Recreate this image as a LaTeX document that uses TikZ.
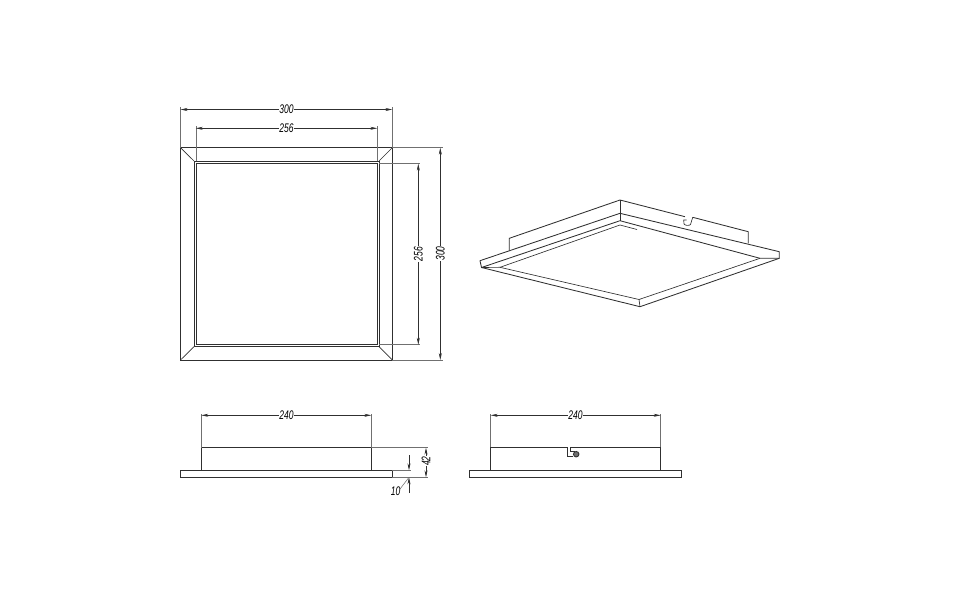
\documentclass[tikz,border=0pt]{standalone}
\usepackage{fontspec}
\setmainfont{Liberation Sans}
\usetikzlibrary{arrows.meta}
\definecolor{inkdark}{HTML}{303030}
\definecolor{inkext}{HTML}{707070}
\tikzset{
	part/.style={draw=inkdark,line width=0.85pt,line join=miter},
	thinpart/.style={draw=inkdark,line width=0.65pt},
	extline/.style={draw=inkext,line width=0.55pt},
	dimline/.style={draw=inkdark,line width=0.55pt,{Stealth[length=7pt,width=3pt]}-{Stealth[length=7pt,width=3pt]}},
	dimend/.style={draw=inkdark,line width=0.55pt,-{Stealth[length=7pt,width=3pt]}},
	dimlabel/.style={fill=white,inner sep=0.8pt,font=\fontsize{12.5}{12.5}\selectfont\itshape,xscale=0.68},
	dimlabelv/.style={fill=white,inner sep=0.8pt,font=\fontsize{12.5}{12.5}\selectfont\itshape,rotate=90,xscale=0.68}
}
\begin{document}
\begin{tikzpicture}[x=1pt,y=-1pt]
	\useasboundingbox (0,0) rectangle (960,600);
	% top view
	\draw[part] (180.5,147.7) rectangle (392.3,360);
	\draw[part] (194,161) rectangle (379,346.7);
	\draw[thinpart] (196,163.7) rectangle (377.3,344.4);
	\draw[thinpart] (180.5,147.7)--(194,161);
	\draw[thinpart] (392.3,147.7)--(379,161);
	\draw[thinpart] (180.5,360)--(194,346.7);
	\draw[thinpart] (392.3,360)--(379,346.7);
	\draw[extline] (180.5,147.7)--(180.5,107);
	\draw[extline] (392.3,147.7)--(392.3,107);
	\draw[extline] (195.8,161)--(195.8,126);
	\draw[extline] (377.3,161)--(377.3,126);
	\draw[extline] (392.3,147.7)--(442.6,147.7);
	\draw[extline] (392.3,360)--(442.6,360);
	\draw[extline] (379,163.7)--(420.3,163.7);
	\draw[extline] (379,344.7)--(420.3,344.7);
	\coordinate (wa) at (180.5,109.5);
	\coordinate (wb) at (392.3,109.5);
	\coordinate (ia) at (195.8,128.3);
	\coordinate (ib) at (377.3,128.3);
	\coordinate (ha) at (440.3,147.7);
	\coordinate (hb) at (440.3,360);
	\coordinate (ja) at (418.3,163.7);
	\coordinate (jb) at (418.3,344.7);
	\draw[dimline] (wa)--(wb);
	\draw[dimline] (ia)--(ib);
	\draw[dimline] (ha)--(hb);
	\draw[dimline] (ja)--(jb);
	\node (topw) at (286.4,109.5)[dimlabel] {300};
	\node (topi) at (286.5,128.3)[dimlabel] {256};
	\node (toph) at (440.3,253.5)[dimlabelv] {300};
	\node (topj) at (418.3,254)[dimlabelv] {256};
	% perspective view
	\draw[part] (509.3,250.7)--(509.3,238.3)--(620,200)--(685,216.7);
	\draw[part] (692.7,217.3)--(748.3,231.7)--(748.3,243.3);
	\draw[thinpart] (692.7,217.3)--(690.5,224.5) .. controls (689,226) and (685,225.5) .. (684,224)--(683.7,220)--(686.5,220);
	\draw[thinpart] (620,200)--(620,213.3);
	\draw[part] (480,260.7)--(620,213.3)--(779.3,251.7)--(779.3,258.3)--(640,306.7)--(481.5,267.5)--cycle;
	\draw[part] (481.5,267.5)--(620,220.7)--(760,258.3);
	\draw[thinpart] (500,267.3)--(620,225)--(637,229.5);
	\draw[thinpart] (481.5,267.5)--(500,267.3)--(639,299.5)--(760,258.3)--(779.3,258.3);
	\draw[thinpart] (639,299.5)--(640,306.7);
	\draw[thinpart] (620,213.3)--(620,220.7);
	% side view, left
	\draw[part] (180.3,470.3) rectangle (392.3,477.3);
	\draw[part] (201.3,470.3)--(201.3,447.7)--(371.3,447.7)--(371.3,470.3);
	\draw[extline] (201.3,447.7)--(201.3,413.5);
	\draw[extline] (371.3,447.7)--(371.3,413.5);
	\draw[extline] (371.3,447.7)--(428,447.7);
	\draw[extline] (392.3,470.3)--(411,470.3);
	\draw[extline] (392.3,477.3)--(428,477.3);
	\coordinate (sa) at (201.3,415.3);
	\coordinate (sb) at (371.3,415.3);
	\coordinate (ta) at (426,447.7);
	\coordinate (tb) at (426,477.3);
	\coordinate (ua) at (409,455);
	\coordinate (ub) at (409,470.3);
	\coordinate (va) at (409,493);
	\coordinate (vb) at (409,477.3);
	\coordinate (lead) at (400,489);
	\draw[dimline] (sa)--(sb);
	\draw[dimline] (ta)--(tb);
	\draw[dimend] (ua)--(ub);
	\draw[dimend] (va)--(vb);
	\draw[extline] (vb)--(lead);
	\node (sidew) at (286.5,415)[dimlabel] {240};
	\node (sideh) at (426,461)[dimlabelv] {42};
	\node (sidet) at (395.5,491)[dimlabel,fill=none] {10};
	% side view, right
	\draw[part] (469.7,470.3) rectangle (681.7,477.3);
	\draw[part] (490.7,470.3)--(490.7,447.3)--(567.3,447.3)--(567.3,456)--(573,456);
	\draw[part] (570.7,447.3)--(660.7,447.3)--(660.7,470.3);
	\draw[thinpart] (570.7,447.3)--(570.7,451.5)--(575,451.5);
	\node (screw) at (576.2,454.2)[circle,draw=inkdark,line width=0.9pt,inner sep=0pt,minimum size=5.5pt,fill=inkext] {};
	\draw[extline] (490.7,447.3)--(490.7,413.5);
	\draw[extline] (660.7,447.3)--(660.7,413.5);
	\coordinate (ra) at (490.7,415.3);
	\coordinate (rb) at (660.7,415.3);
	\draw[dimline] (ra)--(rb);
	\node (rearw) at (575.5,415)[dimlabel] {240};
\end{tikzpicture}
\end{document}
